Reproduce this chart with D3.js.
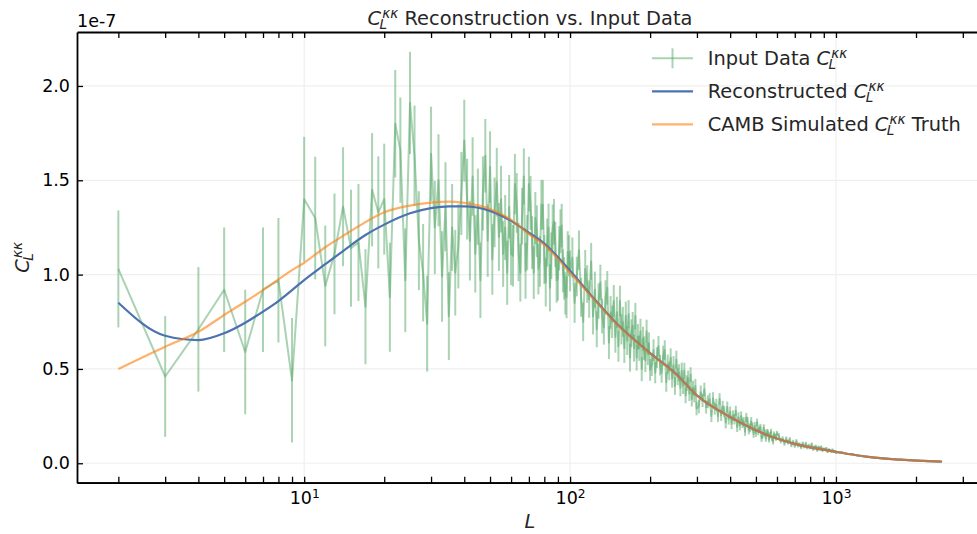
<html>
<head>
<meta charset="utf-8">
<title>Reconstruction vs. Input Data</title>
<script src="https://d3js.org/d3.v7.min.js"></script>
<style>
  body { margin: 0; background: #fff; }
  text { font-family: "DejaVu Sans", sans-serif; }
</style>
</head>
<body>
<div id="chart"></div>
<script>

// input spectrum: multipoles, values (units of 1e-7) and 1-sigma errors
var ells = [2,3,4,5,6,7,8,9,10,
  11,12,13,14,15,16,17,18,19,20,
  21,22,23,24,25,26,27,28,29,30,
  31,32,33,34,35,36,37,38,39,40,
  41,42,43,44,45,46,47,48,49,50,
  51,52,53,54,55,56,57,58,59,60,
  61,62,63,64,65,66,67,68,69,70,
  71,72,73,74,75,76,77,78,79,80,
  81,82,83,84,85,86,87,88,89,90,
  91,92,93,94,95,96,97,98,99,100,
  102,104,106,108,110,112,114,116,118,120,
  122,124,126,128,130,132,134,136,138,140,
  142,144,146,148,150,152,154,156,158,160,
  162,164,166,168,170,172,174,176,178,180,
  182,184,186,188,190,192,194,196,198,200,
  203,206,209,212,215,218,221,224,227,230,
  233,236,239,242,245,248,251,254,257,260,
  263,266,269,272,275,278,281,284,287,290,
  293,296,299,
  305,310,315,320,325,330,335,340,345,350,
  355,360,365,370,375,380,385,390,395,400,
  405,410,415,420,425,430,435,440,445,450,
  455,460,465,470,475,480,485,490,495,500,
  505,510,515,520,525,530,535,540,545,550,
  555,560,565,570,575,580,585,590,595,600,
  610,620,630,640,650,660,670,680,690,700,
  710,720,730,740,750,760,770,780,790,800,
  810,820,830,840,850,860,870,880,890,900,
  910,920,930,940,950,960,970,980,990,1000,
  1050,1100,1150,1200,1250,1300,1350,1400,1450,1500,1550,1600,1650,1700,1750,
  1800,1850,1900,1950,2000,2050,2100,2150,2200,2250,2300,2350,2400,2450,2500];

var clData = [1.03,0.46,0.71,0.92,0.59,0.92,0.97,0.44,1.40,
  1.30,0.94,1.11,1.36,1.14,1.17,0.83,1.45,1.33,1.40,
  0.88,1.80,1.66,0.97,1.91,1.63,1.18,1.01,0.74,1.64,
  1.25,1.50,0.99,1.36,0.78,1.25,1.01,1.15,1.43,1.71,
  1.40,1.18,1.52,1.11,1.36,0.97,1.43,1.63,1.18,1.57,
  1.08,1.33,1.49,1.20,1.40,1.11,1.25,1.01,1.36,1.11,
  1.10,1.48,1.38,1.12,1.01,1.31,1.52,1.02,1.17,1.48,
  1.38,1.17,1.01,1.30,1.23,1.03,1.07,1.37,1.37,1.08,
  0.96,1.17,1.25,0.93,1.10,1.25,1.28,1.16,0.97,0.98,
  1.14,1.23,1.26,1.02,0.98,0.90,0.88,1.12,1.10,1.02,
  1.09,0.85,0.99,1.13,0.88,0.75,1.03,0.95,0.87,1.07,
  0.78,0.92,0.71,0.86,0.96,0.78,0.72,0.88,0.93,0.64,
  0.80,0.75,0.86,0.67,0.80,0.62,0.86,0.71,0.75,0.61,
  0.78,0.65,0.79,0.56,0.69,0.73,0.61,0.78,0.56,0.67,
  0.61,0.70,0.50,0.66,0.61,0.545,0.70,0.58,0.635,0.495,
  0.52,0.60,0.48,0.56,0.62,0.52,0.48,0.57,0.60,0.43,
  0.525,0.49,0.56,0.45,0.52,0.41,0.55,0.46,0.48,0.40,
  0.49,0.41,0.49,0.36,0.425,0.45,0.37,0.47,0.34,0.40,
  0.36,0.41,0.29,
  0.301,0.377,0.333,0.392,0.297,0.326,0.340,0.251,0.344,0.290,
  0.310,0.250,0.341,0.255,0.301,0.274,0.215,0.298,0.234,0.273,
  0.209,0.253,0.233,0.278,0.192,0.244,0.200,0.250,0.212,0.220,
  0.169,0.243,0.223,0.176,0.187,0.223,0.193,0.156,0.198,0.161,
  0.217,0.169,0.180,0.190,0.132,0.150,0.189,0.160,0.131,0.165,
  0.163,0.126,0.148,0.168,0.132,0.115,0.155,0.143,0.132,0.159,
  0.146,0.118,0.131,0.105,0.130,0.111,0.127,0.096,0.113,0.093,
  0.117,0.095,0.101,0.085,0.105,0.089,0.104,0.083,0.094,0.083,
  0.101,0.075,0.086,0.090,0.069,0.086,0.077,0.087,0.068,0.077,
  0.071,0.079,0.061,0.073,0.068,0.062,0.072,0.061,0.065,0.055,
  0.059,0.049,0.049,0.041,0.040,0.034,0.033,0.029,0.029,0.025,0.025,0.022,0.022,0.019,0.0195,
  0.0172,0.0175,0.0155,0.0153,0.0136,0.0138,0.0126,0.0123,0.0112,0.0112,0.0102,0.0102,0.0093,0.0091,0.0084];

var clErr = [0.31,0.32,0.33,0.33,0.33,0.33,0.33,0.33,0.33,
  0.325,0.32,0.32,0.315,0.31,0.31,0.305,0.30,0.297,0.294,
  0.289,0.285,0.279,0.275,0.271,0.266,0.262,0.258,0.254,0.25,
  0.247,0.244,0.24,0.236,0.233,0.23,0.227,0.223,0.22,0.217,
  0.214,0.211,0.208,0.205,0.202,0.20,0.197,0.195,0.192,0.19,
  0.187,0.185,0.182,0.18,0.177,0.175,0.172,0.17,0.168,0.166,
  0.163,0.16,0.158,0.155,0.153,0.15,0.149,0.148,0.146,0.145,
  0.143,0.14,0.139,0.138,0.137,0.135,0.134,0.132,0.131,0.13,
  0.129,0.127,0.126,0.125,0.124,0.122,0.121,0.12,0.119,0.118,
  0.117,0.116,0.115,0.114,0.113,0.112,0.111,0.11,0.109,0.108,
  0.107,0.106,0.105,0.104,0.103,0.102,0.101,0.100,0.099,0.098,
  0.097,0.096,0.095,0.094,0.093,0.092,0.091,0.090,0.089,0.088,
  0.087,0.086,0.085,0.084,0.083,0.082,0.081,0.080,0.079,0.078,
  0.077,0.076,0.075,0.074,0.073,0.072,0.071,0.070,0.069,0.068,
  0.067,0.066,0.065,0.064,0.063,0.062,0.061,0.060,0.059,0.058,
  0.057,0.057,0.056,0.055,0.055,0.054,0.053,0.053,0.052,0.051,
  0.051,0.050,0.049,0.049,0.048,0.047,0.047,0.046,0.045,0.045,
  0.044,0.043,0.043,0.042,0.041,0.041,0.040,0.039,0.039,0.038,
  0.037,0.037,0.036,
  0.036,0.035,0.035,0.035,0.034,0.034,0.033,0.033,0.033,0.032,
  0.032,0.031,0.031,0.031,0.030,0.030,0.030,0.029,0.029,0.028,
  0.028,0.028,0.027,0.027,0.026,0.026,0.026,0.025,0.025,0.025,
  0.024,0.024,0.023,0.023,0.023,0.022,0.022,0.021,0.021,0.021,
  0.020,0.020,0.020,0.019,0.019,0.018,0.018,0.018,0.017,0.017,
  0.016,0.016,0.016,0.015,0.015,0.015,0.014,0.014,0.013,0.013,
  0.013,0.013,0.012,0.012,0.012,0.012,0.012,0.011,0.011,0.011,
  0.011,0.011,0.010,0.010,0.010,0.010,0.010,0.009,0.009,0.009,
  0.009,0.009,0.008,0.008,0.008,0.008,0.008,0.007,0.007,0.007,
  0.007,0.007,0.006,0.006,0.006,0.006,0.006,0.005,0.005,0.005,
  0.004,0.004,0.0035,0.0035,0.003,0.003,0.003,0.0025,0.0025,0.0025,0.002,0.002,0.002,0.002,0.002,
  0.0018,0.0018,0.0016,0.0016,0.0015,0.0015,0.0014,0.0014,0.0013,0.0013,0.0012,0.0012,0.0012,0.0011,0.0011];

// smooth curves
var curveL = [2,3,4,5,6,7,8,9,10,12,14,17,20,25,30,35,40,50,60,70,80,100,120,150,200,250,300,400,550,700,1000,1300,1750,2500];
var clReco = [0.851,0.676,0.653,0.689,0.745,0.804,0.860,0.918,0.971,1.055,1.125,1.21,1.265,1.325,1.352,1.362,1.362,1.338,1.285,1.222,1.165,1.02,0.89,0.74,0.584,0.474,0.36,0.245,0.15,0.103,0.061,0.035,0.019,0.0085];
var clCamb = [0.50,0.618,0.697,0.786,0.856,0.918,0.975,1.024,1.063,1.145,1.205,1.278,1.33,1.366,1.382,1.387,1.38,1.348,1.29,1.215,1.157,1.01,0.886,0.738,0.582,0.473,0.36,0.245,0.15,0.103,0.061,0.035,0.019,0.0085];

var yTicks = [0, 0.5, 1.0, 1.5, 2.0];
var xMajor = [10, 100, 1000];
var xMinor = [2,3,4,5,6,7,8,9,20,30,40,50,60,70,80,90,200,300,400,500,600,700,800,900,2000,3000];

var W = 977, H = 534;
var box = {left: 77, right: 983, top: 32, bottom: 482.7};

var green = "#55a868", blue = "#4c72b0", orange = "#ff7f0e";
var ink = "#262626";

var x = d3.scaleLog().domain([1.398, 3573]).range([box.left, box.right]);
var y = d3.scaleLinear().domain([-0.103, 2.286]).range([box.bottom, box.top]);

var svg = d3.select("#chart").append("svg")
    .attr("width", W)
    .attr("height", H);

// grid
var grid = svg.append("g");
grid.selectAll(".gy").data(yTicks).enter().append("line")
    .attr("x1", box.left).attr("x2", box.right)
    .attr("y1", function(d) { return y(d); })
    .attr("y2", function(d) { return y(d); })
    .attr("stroke", "#efefef").attr("stroke-width", 1.2);
grid.selectAll(".gx").data(xMajor).enter().append("line")
    .attr("y1", box.top).attr("y2", box.bottom)
    .attr("x1", function(d) { return x(d); })
    .attr("x2", function(d) { return x(d); })
    .attr("stroke", "#efefef").attr("stroke-width", 1.2);

// input data with error bars
var pts = ells.map(function(L, i) { return {L: L, v: clData[i], e: clErr[i]}; })
    .filter(function(d) { return d.v != null && d.e != null; });

var dataG = svg.append("g");
dataG.append("path")
    .datum(pts)
    .attr("fill", "none")
    .attr("stroke", green)
    .attr("stroke-width", 2)
    .attr("stroke-opacity", 0.5)
    .attr("stroke-linejoin", "round")
    .attr("d", d3.line().x(function(d) { return x(d.L); }).y(function(d) { return y(d.v); }));

dataG.selectAll(".bar").data(pts).enter().append("line")
    .attr("x1", function(d) { return x(d.L); })
    .attr("x2", function(d) { return x(d.L); })
    .attr("y1", function(d) { return y(d.v - d.e); })
    .attr("y2", function(d) { return y(d.v + d.e); })
    .attr("stroke", green)
    .attr("stroke-width", 2)
    .attr("stroke-opacity", 0.5);

var curveLine = d3.line()
    .x(function(d) { return x(d[0]); })
    .y(function(d) { return y(d[1]); })
    .curve(d3.curveMonotoneX);

svg.append("path")
    .datum(curveL.map(function(L, i) { return [L, clReco[i]]; }))
    .attr("fill", "none")
    .attr("stroke", blue)
    .attr("stroke-width", 2.2)
    .attr("d", curveLine);

svg.append("path")
    .datum(curveL.map(function(L, i) { return [L, clCamb[i]]; }))
    .attr("fill", "none")
    .attr("stroke", orange)
    .attr("stroke-width", 2.2)
    .attr("stroke-opacity", 0.62)
    .attr("d", curveLine);

// axes, ticks pointing inwards on all four sides
function styleAxis(g) {
  g.select(".domain").attr("stroke", "#000").attr("stroke-width", 1.8);
  g.selectAll(".tick line").attr("stroke", "#000").attr("stroke-width", 1.3);
  g.selectAll(".tick text").attr("fill", "#000").attr("font-size", 17.5)
      .attr("font-family", "DejaVu Sans");
}

var bottomAx = svg.append("g")
    .attr("transform", "translate(0," + box.bottom + ")")
    .call(d3.axisBottom(x).tickValues(xMajor).tickSizeInner(-6).tickSizeOuter(0).tickPadding(9));
bottomAx.selectAll(".tick text").text(null).each(function(d) {
  var t = d3.select(this);
  t.append("tspan").text("10");
  t.append("tspan").attr("dy", "-0.5em").attr("font-size", "0.7em").text(Math.round(Math.log10(d)));
});
styleAxis(bottomAx);

var bottomMinor = svg.append("g")
    .attr("transform", "translate(0," + box.bottom + ")")
    .call(d3.axisBottom(x).tickValues(xMinor).tickSizeInner(-6).tickSizeOuter(0).tickFormat(""));
styleAxis(bottomMinor);

var topAx = svg.append("g")
    .attr("transform", "translate(0," + box.top + ")")
    .call(d3.axisTop(x).tickValues(xMajor.concat(xMinor)).tickSizeInner(-6).tickSizeOuter(0).tickFormat(""));
styleAxis(topAx);

var leftAx = svg.append("g")
    .attr("transform", "translate(" + box.left + ",0)")
    .call(d3.axisLeft(y).tickValues(yTicks).tickSizeInner(-6).tickSizeOuter(0).tickPadding(7)
      .tickFormat(d3.format(".1f")));
styleAxis(leftAx);

var rightAx = svg.append("g")
    .attr("transform", "translate(" + box.right + ",0)")
    .call(d3.axisRight(y).tickValues(yTicks).tickSizeInner(-6).tickSizeOuter(0).tickFormat(""));
styleAxis(rightAx);

svg.append("text")
    .attr("x", box.left).attr("y", 27)
    .attr("font-size", 17.5).attr("fill", "#000")
    .text("1e-7");

// C_L^{kk} in mathtext style, drawn at the origin of g, returns its width
function mathC(g, size) {
  var c = g.append("text").attr("font-style", "italic").attr("font-size", size).attr("fill", ink).text("C");
  var w = c.node().getComputedTextLength();
  var sup = g.append("text").attr("x", w + size * 0.06).attr("y", -size * 0.36)
      .attr("font-style", "italic").attr("font-size", size * 0.7).attr("fill", ink).text("κκ");
  var sub = g.append("text").attr("x", w - size * 0.08).attr("y", size * 0.22)
      .attr("font-style", "italic").attr("font-size", size * 0.7).attr("fill", ink).text("L");
  return Math.max(w + size * 0.06 + sup.node().getComputedTextLength(),
                  w - size * 0.08 + sub.node().getComputedTextLength());
}

function mathLabel(g, before, after, size) {
  var pos = 0;
  if (before) {
    var t = g.append("text").attr("font-size", size).attr("fill", ink)
        .attr("xml:space", "preserve").text(before);
    pos = t.node().getComputedTextLength();
  }
  var cg = g.append("g").attr("transform", "translate(" + pos + ",0)");
  pos += mathC(cg, size);
  if (after) {
    var t2 = g.append("text").attr("x", pos).attr("font-size", size).attr("fill", ink)
        .attr("xml:space", "preserve").text(after);
    pos += t2.node().getComputedTextLength();
  }
  return pos;
}

var fs = 19.4;

// title
var titleG = svg.append("g");
var tw = mathLabel(titleG, null, " Reconstruction vs. Input Data", fs);
titleG.attr("transform", "translate(" + ((box.left + box.right) / 2 - tw / 2) + ",25)");

// axis labels
svg.append("text")
    .attr("x", (box.left + box.right) / 2).attr("y", 528)
    .attr("text-anchor", "middle").attr("font-style", "italic")
    .attr("font-size", fs).attr("fill", ink).text("L");

var ylG = svg.append("g");
var yw = mathLabel(ylG, null, null, fs);
ylG.attr("transform", "translate(29," + ((box.top + box.bottom) / 2) + ") rotate(-90) translate(" + (-yw / 2) + ",0)");

// legend
var legendRows = [
  {before: "Input Data ", after: null, color: green, bar: true},
  {before: "Reconstructed ", after: null, color: blue, bar: false},
  {before: "CAMB Simulated ", after: " Truth", color: orange, bar: false}
];
var legend = svg.append("g");
legendRows.forEach(function(r, i) {
  var cy = 58.3 + i * 33;
  var h = legend.append("g");
  h.append("line")
      .attr("x1", 652).attr("x2", 693).attr("y1", cy).attr("y2", cy)
      .attr("stroke", r.color).attr("stroke-width", r.bar ? 2 : 2.2)
      .attr("stroke-opacity", r.bar ? 0.5 : (r.color == orange ? 0.62 : 1));
  if (r.bar) {
    h.append("line")
        .attr("x1", 672.5).attr("x2", 672.5).attr("y1", cy - 10).attr("y2", cy + 10)
        .attr("stroke", r.color).attr("stroke-width", 2).attr("stroke-opacity", 0.5);
  }
  var lg = legend.append("g").attr("transform", "translate(707.7," + (cy + 6.7) + ")");
  mathLabel(lg, r.before, r.after, fs);
});

</script>
</body>
</html>
